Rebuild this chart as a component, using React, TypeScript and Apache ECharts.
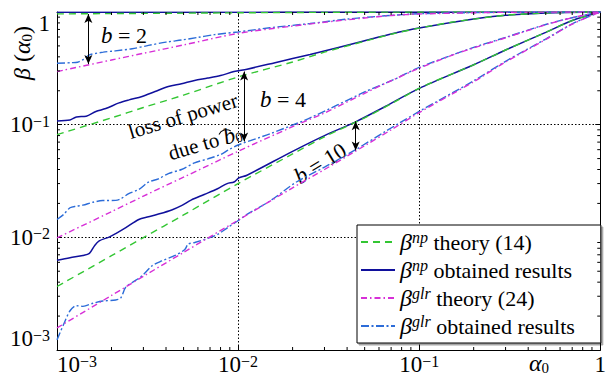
import React, { useEffect, useRef } from 'react';
import * as echarts from 'echarts';

// ---------- data ----------
const alphaTheory = [0.001, 0.002, 0.003, 0.005, 0.01, 0.02, 0.03, 0.05, 0.07, 0.1, 0.15, 0.2, 0.3, 0.5, 0.7, 1];
const npTheoryB2 = [0.962, 0.968, 0.972, 0.977, 0.984, 0.99, 0.993, 0.996, 0.998, 0.999, 1, 1, 1, 1, 1, 1];
const npTheoryB4 = [0.0816, 0.115, 0.142, 0.183, 0.265, 0.36, 0.44, 0.55, 0.635, 0.72, 0.81, 0.865, 0.935, 0.98, 0.994, 1];
const npTheoryB10 = [0.00366, 0.00687, 0.00995, 0.0158, 0.03, 0.055, 0.078, 0.115, 0.153, 0.21, 0.28, 0.34, 0.46, 0.66, 0.84, 1];
const glrTheoryB2 = [0.296, 0.375, 0.43, 0.51, 0.646, 0.75, 0.81, 0.885, 0.93, 0.96, 0.975, 0.985, 0.993, 0.998, 0.999, 1];
const glrTheoryB4 = [0.0099, 0.0169, 0.0232, 0.0342, 0.058, 0.096, 0.127, 0.19, 0.245, 0.317, 0.41, 0.48, 0.59, 0.77, 0.89, 1];
const glrTheoryB10 = [0.00157, 0.00305, 0.00451, 0.00735, 0.0142, 0.0275, 0.04, 0.065, 0.09, 0.128, 0.185, 0.24, 0.36, 0.57, 0.78, 1];

const npObtB2Alpha = [0.001, 0.003, 0.01, 0.03, 0.1, 0.3, 1];
const npObtB2 = [0.993, 0.995, 0.997, 0.999, 1, 1, 1];

const npObtB4Alpha = [0.001, 0.00118, 0.00128, 0.00145, 0.00164, 0.00186, 0.0022, 0.0025, 0.00295, 0.00348, 0.00412, 0.00487, 0.00575, 0.0068, 0.008, 0.0095, 0.0112, 0.016, 0.025, 0.05, 0.07, 0.1, 0.2, 0.3, 0.5, 1];
const npObtB4 = [0.108, 0.11, 0.117, 0.119, 0.131, 0.139, 0.156, 0.166, 0.178, 0.197, 0.218, 0.231, 0.247, 0.259, 0.273, 0.296, 0.311, 0.355, 0.42, 0.555, 0.637, 0.72, 0.866, 0.935, 0.98, 1];

const npObtB10Alpha = [0.001, 0.00118, 0.00139, 0.00151, 0.00161, 0.00171, 0.00195, 0.00211, 0.0024, 0.00283, 0.0032, 0.0036, 0.0043, 0.0049, 0.0055, 0.0065, 0.0077, 0.0087, 0.0095, 0.0101, 0.0112, 0.02, 0.03, 0.0446, 0.065, 0.1, 0.2, 0.3, 0.5, 0.7, 1];
const npObtB10 = [0.00625, 0.0066, 0.0069, 0.0072, 0.0084, 0.0093, 0.0101, 0.0108, 0.0122, 0.0144, 0.0152, 0.016, 0.0175, 0.0192, 0.0214, 0.024, 0.027, 0.03, 0.031, 0.0337, 0.0356, 0.058, 0.08, 0.106, 0.145, 0.21, 0.34, 0.46, 0.66, 0.84, 1];

const glrObtB2Alpha = [0.001, 0.0012, 0.0013, 0.0014, 0.0015, 0.0018, 0.0021, 0.0026, 0.0032, 0.004, 0.0049, 0.006, 0.0074, 0.01, 0.015, 0.025, 0.04, 0.065, 0.1, 0.2, 0.4, 1];
const glrObtB2 = [0.351, 0.355, 0.358, 0.38, 0.415, 0.44, 0.452, 0.472, 0.505, 0.54, 0.565, 0.595, 0.63, 0.665, 0.725, 0.79, 0.865, 0.925, 0.965, 0.988, 0.997, 1];

const glrObtB4Alpha = [0.001, 0.00109, 0.00118, 0.00128, 0.00139, 0.00158, 0.00179, 0.00211, 0.00225, 0.00249, 0.00283, 0.0032, 0.00363, 0.00412, 0.00487, 0.00575, 0.0068, 0.008, 0.0089, 0.01, 0.015, 0.025, 0.05, 0.075, 0.1, 0.2, 0.3, 0.5, 0.7, 1];
const glrObtB4 = [0.0144, 0.016, 0.0183, 0.0189, 0.0193, 0.0205, 0.0212, 0.0213, 0.022, 0.0244, 0.0266, 0.0309, 0.033, 0.0368, 0.04, 0.0458, 0.0497, 0.0543, 0.06, 0.066, 0.083, 0.115, 0.195, 0.258, 0.322, 0.485, 0.595, 0.775, 0.89, 1];

const glrObtB10Alpha = [0.001, 0.00109, 0.00118, 0.00128, 0.00139, 0.00158, 0.00179, 0.00211, 0.00225, 0.00239, 0.0026, 0.00295, 0.00334, 0.00379, 0.00448, 0.00508, 0.0053, 0.00576, 0.0068, 0.0077, 0.00876, 0.0099, 0.0112, 0.015, 0.021, 0.03, 0.0446, 0.065, 0.1, 0.2, 0.3, 0.5, 0.7, 1];
const glrObtB10 = [0.00123, 0.0017, 0.00223, 0.00247, 0.00244, 0.0026, 0.00272, 0.00278, 0.0029, 0.00359, 0.00397, 0.00455, 0.00557, 0.00617, 0.0069, 0.0078, 0.0087, 0.009, 0.0098, 0.0106, 0.0122, 0.0139, 0.016, 0.021, 0.031, 0.042, 0.06, 0.087, 0.131, 0.245, 0.365, 0.575, 0.785, 1];

// arrows: [alpha, top, bottom]
const arrows = [
  [0.00149, 0.96, 0.345],
  [0.0108, 0.296, 0.071],
  [0.0446, 0.107, 0.0591],
];

const minorFactors = [2, 3, 4, 5, 6, 7, 8, 9];
const decades = [0.001, 0.01, 0.1];

const legendNames = ['npTheory', 'npObt', 'glrTheory', 'glrObt'];
const legendLabels: Record<string, string> = {
  npTheory: '{g|β}{s|np} theory (14)',
  npObt: '{g|β}{s|np} obtained results',
  glrTheory: '{g|β}{s|glr} theory (24)',
  glrObt: '{g|β}{s|glr} obtained results',
};

const FONT = 'Liberation Serif';
const C_GREEN = '#33c633';
const C_BLUE = '#10109c';
const C_MAG = '#d72fd7';
const C_LBLUE = '#2c6cd8';

const zip = (a: number[], b: number[]) => a.map((v, i) => [v, b[i]]);

export default function App() {
  const ref = useRef<HTMLDivElement>(null);
  useEffect(() => {
    if (!ref.current) return;
    const chart = echarts.init(ref.current, undefined, { renderer: 'svg' });

    const tickFmt = (v: number) => {
      const e = Math.round(Math.log10(v));
      if (e === 0) return '1';
      return '10{s|−' + -e + '}';
    };
    const labelRich = {
      s: { fontSize: 16, fontFamily: FONT, color: '#000', verticalAlign: 'top', lineHeight: 12 },
    };

    const minorVals: number[] = [];
    decades.forEach((d) => minorFactors.forEach((f) => minorVals.push(+(d * f).toPrecision(3))));

    const mkLine = (name: string, data: number[][], color: string, type: any, width = 1.4, extra: any = {}) => ({
      type: 'line',
      name,
      data,
      symbol: 'none',
      showSymbol: false,
      smooth: 0.3,
      lineStyle: { color, type, width },
      itemStyle: { color },
      z: 3,
      ...extra,
    });

    const dashNp = [7, 5];
    const dashGlrT = [6, 3, 1.5, 3];
    const dashGlrO = [8, 2.5, 2, 2.5];

    const series: any[] = [
      mkLine('npObt', zip(npObtB2Alpha, npObtB2), C_BLUE, 'solid', 1.5, {
        markLine: {
          silent: true,
          symbol: ['arrow', 'arrow'],
          symbolSize: [6, 9],
          label: { show: false },
          lineStyle: { color: '#000', type: 'solid', width: 1 },
          data: arrows.map((a) => [{ coord: [a[0], a[1]] }, { coord: [a[0], a[2]] }]),
        },
      }),
      mkLine('npObt', zip(npObtB4Alpha, npObtB4), C_BLUE, 'solid', 1.5),
      mkLine('npObt', zip(npObtB10Alpha, npObtB10), C_BLUE, 'solid', 1.5),
      mkLine('npTheory', zip(alphaTheory, npTheoryB2), C_GREEN, dashNp),
      mkLine('npTheory', zip(alphaTheory, npTheoryB4), C_GREEN, dashNp),
      mkLine('npTheory', zip(alphaTheory, npTheoryB10), C_GREEN, dashNp),
      mkLine('glrObt', zip(glrObtB2Alpha, glrObtB2), C_LBLUE, dashGlrO),
      mkLine('glrObt', zip(glrObtB4Alpha, glrObtB4), C_LBLUE, dashGlrO),
      mkLine('glrObt', zip(glrObtB10Alpha, glrObtB10), C_LBLUE, dashGlrO),
      mkLine('glrTheory', zip(alphaTheory, glrTheoryB2), C_MAG, dashGlrT),
      mkLine('glrTheory', zip(alphaTheory, glrTheoryB4), C_MAG, dashGlrT),
      mkLine('glrTheory', zip(alphaTheory, glrTheoryB10), C_MAG, dashGlrT),
      {
        type: 'custom',
        name: 'minorX',
        silent: true,
        z: 5,
        data: minorVals.map((v) => [v, 0.001]),
        renderItem: (params: any, api: any) => {
          const v = api.value(0);
          const b = api.coord([v, 0.001]);
          const t = api.coord([v, 1]);
          const st = { stroke: '#000', lineWidth: 1 };
          return {
            type: 'group',
            children: [
              { type: 'line', shape: { x1: b[0], y1: b[1], x2: b[0], y2: b[1] - 3 }, style: st },
              { type: 'line', shape: { x1: t[0], y1: t[1], x2: t[0], y2: t[1] + 3 }, style: st },
            ],
          };
        },
      },
      {
        type: 'custom',
        name: 'minorY',
        silent: true,
        z: 5,
        data: minorVals.map((v) => [0.001, v]),
        renderItem: (params: any, api: any) => {
          const v = api.value(1);
          const l = api.coord([0.001, v]);
          const r = api.coord([1, v]);
          const st = { stroke: '#000', lineWidth: 1 };
          return {
            type: 'group',
            children: [
              { type: 'line', shape: { x1: l[0], y1: l[1], x2: l[0] + 3, y2: l[1] }, style: st },
              { type: 'line', shape: { x1: r[0], y1: r[1], x2: r[0] - 3, y2: r[1] }, style: st },
            ],
          };
        },
      },
    ];

    const baseAxis = {
      type: 'log',
      logBase: 10,
      min: 0.001,
      max: 1,
      axisLine: { show: true, onZero: false, lineStyle: { color: '#000', width: 1 } },
      axisTick: { show: true, inside: true, length: 5, lineStyle: { color: '#000', width: 1 } },
      splitLine: { show: false },
    };

    const annText = (t: string, x: number, y: number, r: number, size: number) => ({
      type: 'text',
      x,
      y,
      rotation: r,
      style: {
        text: t,
        align: 'center',
        verticalAlign: 'middle',
        fontFamily: FONT,
        fontSize: size,
        fill: '#000',
        rich: {
          i: { fontFamily: FONT, fontSize: size + 1, fontStyle: 'italic', fill: '#000' },
          sub: { fontFamily: FONT, fontSize: 14, fill: '#000', verticalAlign: 'bottom', lineHeight: 14 },
        },
      },
    });

    chart.setOption({
      animation: false,
      backgroundColor: '#fff',
      grid: { left: 57, right: 1, top: 12, bottom: 26, containLabel: false },
      xAxis: [
        {
          ...baseAxis,
          position: 'bottom',
          axisLabel: {
            formatter: tickFmt,
            fontFamily: FONT,
            fontSize: 23,
            color: '#000',
            margin: 3,
            alignMinLabel: 'left',
            rich: labelRich,
          },
          splitLine: { show: true, lineStyle: { type: [1.5, 2], color: '#000', width: 1 } },
        },
        { ...baseAxis, position: 'top', axisLabel: { show: false } },
      ],
      yAxis: [
        {
          ...baseAxis,
          position: 'left',
          axisLabel: {
            formatter: tickFmt,
            fontFamily: FONT,
            fontSize: 23,
            color: '#000',
            margin: 7,
            verticalAlignMaxLabel: 'top',
            verticalAlignMinLabel: 'bottom',
            rich: labelRich,
          },
          splitLine: { show: true, lineStyle: { type: [1.5, 2], color: '#000', width: 1 } },
        },
        { ...baseAxis, position: 'right', axisLabel: { show: false } },
      ],
      legend: {
        data: legendNames,
        orient: 'vertical',
        left: 357,
        top: 225,
        padding: [4, 26, 4, 3],
        itemGap: 2,
        itemWidth: 34,
        itemHeight: 14,
        backgroundColor: '#fff',
        borderColor: '#000',
        borderWidth: 1,
        borderRadius: 0,
        shadowColor: 'rgba(0,0,0,0.35)',
        shadowOffsetX: 2,
        shadowOffsetY: 2,
        shadowBlur: 0,
        selectedMode: false,
        itemStyle: { opacity: 0 },
        formatter: (n: string) => legendLabels[n],
        textStyle: {
          fontFamily: FONT,
          fontSize: 22,
          color: '#000',
          lineHeight: 26,
          rich: {
            g: { fontFamily: FONT, fontSize: 24, fontStyle: 'italic', color: '#000', lineHeight: 26 },
            s: { fontFamily: FONT, fontSize: 16, fontStyle: 'italic', color: '#000', verticalAlign: 'top', lineHeight: 14 },
          },
        },
      },
      graphic: [
        {
          type: 'text',
          x: 22,
          y: 53,
          rotation: Math.PI / 2,
          style: {
            text: '{i|β} ({i|α}{sub|0})',
            align: 'center',
            verticalAlign: 'middle',
            fontFamily: FONT,
            fontSize: 24,
            fill: '#000',
            rich: {
              i: { fontFamily: FONT, fontSize: 24, fontStyle: 'italic', fill: '#000' },
              sub: { fontFamily: FONT, fontSize: 15, fill: '#000', verticalAlign: 'bottom', lineHeight: 15 },
            },
          },
        },
        {
          type: 'text',
          x: 539,
          y: 363,
          style: {
            text: '{i|α}{sub|0}',
            align: 'center',
            verticalAlign: 'middle',
            fontFamily: FONT,
            fontSize: 24,
            fill: '#000',
            rich: {
              i: { fontFamily: FONT, fontSize: 24, fontStyle: 'italic', fill: '#000' },
              sub: { fontFamily: FONT, fontSize: 15, fill: '#000', verticalAlign: 'bottom', lineHeight: 15 },
            },
          },
        },
        annText('{i|b} = 2', 124, 35, 0, 22),
        annText('{i|b} = 4', 283, 99, 0, 22),
        annText('{i|b} = 10', 320, 163, 0.55, 22),
        annText('loss of power', 183, 116, 0.29, 21),
        {
          type: 'group',
          x: 205,
          y: 143,
          rotation: 0.29,
          children: [
            {
              type: 'text',
              x: 0,
              y: 0,
              style: {
                text: 'due to {i|b}{sub|0}',
                align: 'center',
                verticalAlign: 'middle',
                fontFamily: FONT,
                fontSize: 21,
                fill: '#000',
                rich: {
                  i: { fontFamily: FONT, fontSize: 23, fontStyle: 'italic', fill: '#000' },
                  sub: { fontFamily: FONT, fontSize: 14, fill: '#000', verticalAlign: 'bottom', lineHeight: 14 },
                },
              },
            },
            {
              type: 'arc',
              shape: { cx: 22, cy: 1, r: 8, startAngle: Math.PI * 1.22, endAngle: Math.PI * 1.78, clockwise: true },
              style: { stroke: '#000', lineWidth: 1, fill: 'none' },
            },
          ],
        },
      ],
      series,
    });
    return () => chart.dispose();
  }, []);
  return (
    <div
      ref={ref}
      style={{ position: 'fixed', left: 0, top: 0, width: 609, height: 376, background: '#fff' }}
    />
  );
}
